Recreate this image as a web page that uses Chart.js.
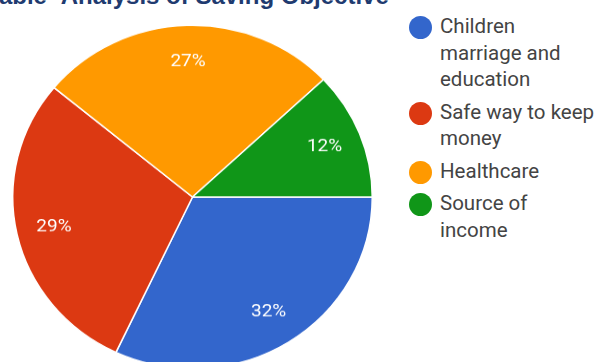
<!DOCTYPE html>
<html>
<head>
<meta charset="utf-8">
<script src="https://cdn.jsdelivr.net/npm/chart.js@4.4.1/dist/chart.umd.min.js"></script>
<style>
    html, body { margin: 0; padding: 0; background: #fff; }
    body { width: 600px; height: 362px; overflow: hidden; position: relative; }
    #title {
        position: absolute; left: -14px; top: -18px; white-space: nowrap;
        font: bold 24px "Liberation Sans", Arial, sans-serif; color: #1f3b70;
    }
    #pieWrap {
        position: absolute; left: 0; top: 0; width: 385px; height: 394px;
        transform: scaleY(0.955); transform-origin: 192px 197px;
    }
    #legend { position: absolute; left: 409px; top: 13px; font: 20.5px Roboto, sans-serif; color: #444; }
    .item { display: flex; align-items: flex-start; margin-bottom: 6px; }
    .dot { width: 23px; height: 23px; border-radius: 50%; margin: 3px 8px 0 0; flex: none; }
    .txt { line-height: 26.5px; }
</style>
</head>
<body>
<div id="title">Table- Analysis of Saving Objective</div>
<div id="pieWrap"><canvas id="savingChart" width="385" height="394"></canvas></div>
<div id="legend"></div>
<script>
const categories = [
    ['Children', 'marriage and', 'education'],
    ['Safe way to keep', 'money'],
    ['Healthcare'],
    ['Source of', 'income']
];
const shares = [32, 29, 27, 12];
const colors = ['#3366cc', '#dc3912', '#ff9900', '#109618'];

// percentage text inside each slice
const sliceLabels = {
    id: 'sliceLabels',
    afterDatasetsDraw(chart) {
        const ctx = chart.ctx;
        const meta = chart.getDatasetMeta(0);
        const total = shares.reduce((a, b) => a + b, 0);
        ctx.save();
        ctx.font = '19px Roboto, sans-serif';
        ctx.fillStyle = '#fff';
        ctx.textAlign = 'center';
        ctx.textBaseline = 'middle';
        meta.data.forEach((arc, i) => {
            const mid = (arc.startAngle + arc.endAngle) / 2;
            const d = arc.outerRadius * 0.79;
            ctx.fillText(Math.round(shares[i] / total * 100) + '%',
                arc.x + Math.cos(mid) * d, arc.y + Math.sin(mid) * d);
        });
        ctx.restore();
    }
};

new Chart(document.getElementById('savingChart'), {
    type: 'pie',
    data: {
        labels: categories,
        datasets: [{
            data: shares,
            backgroundColor: colors,
            borderColor: '#fff',
            borderWidth: 1.5
        }]
    },
    options: {
        responsive: false,
        animation: false,
        rotation: 90,
        layout: { padding: { left: 12, top: 16.5, right: 12, bottom: 16.5 } },
        plugins: { legend: { display: false }, tooltip: { enabled: false } }
    },
    plugins: [sliceLabels]
});

const legend = document.getElementById('legend');
categories.forEach((lines, i) => {
    const item = document.createElement('div');
    item.className = 'item';
    const dot = document.createElement('span');
    dot.className = 'dot';
    dot.style.background = colors[i];
    const txt = document.createElement('div');
    txt.className = 'txt';
    txt.innerHTML = lines.join('<br>');
    item.appendChild(dot);
    item.appendChild(txt);
    legend.appendChild(item);
});
</script>
</body>
</html>
